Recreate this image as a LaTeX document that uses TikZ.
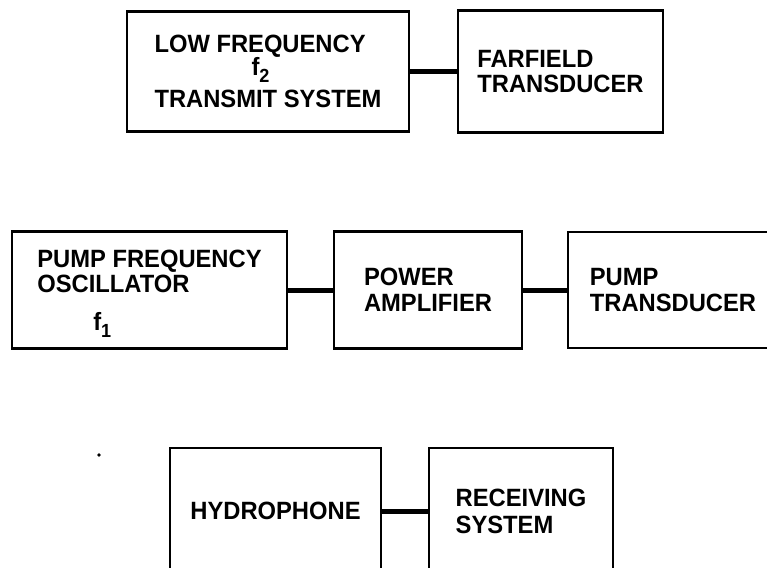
\documentclass[tikz,border=0pt]{standalone}
\usepackage{fontspec}
\setmainfont{Liberation Sans}[FakeStretch=0.95]
\tikzset{
  blk/.style={draw, line width=2.6pt, rectangle, inner sep=0pt, align=left,
    font=\fontsize{25}{26}\selectfont\bfseries},
  wire/.style={line width=5pt}
}
\newcommand{\subnum}[1]{\raisebox{-7pt}[0pt][0pt]{\fontsize{19}{19}\selectfont #1}}
\begin{document}
\begin{tikzpicture}[x=1pt,y=-1pt]
\useasboundingbox (0,0) rectangle (767,567);
\clip (0,0) rectangle (767,567);
% row 1
\node[blk, minimum width=282pt, minimum height=120pt] (lf) at (268,71.5)
  {LOW FREQUENCY\\[-3pt]\hspace*{97pt}f\subnum{2}\\[6pt]TRANSMIT SYSTEM};
\node[blk, minimum width=205pt, minimum height=122pt] (ff) at (560.5,71.5)
  {FARFIELD\\[-1pt]TRANSDUCER};
% row 2
\node[blk, minimum width=275pt, minimum height=117pt] (po) at (149.5,290)
  {PUMP FREQUENCY\\[-1pt]OSCILLATOR\\[12pt]\hspace*{56pt}f\subnum{1}};
\node[blk, minimum width=188pt, minimum height=117pt] (pa) at (428,290)
  {POWER\\AMPLIFIER};
\node[blk, minimum width=210pt, minimum height=116pt] (pt) at (673,290)
  {PUMP\\TRANSDUCER};
% row 3
\node[blk, minimum width=211pt, minimum height=126pt] (hy) at (275.5,511)
  {HYDROPHONE};
\node[blk, minimum width=184pt, minimum height=126pt] (rs) at (521,511)
  {RECEIVING\\[1pt]SYSTEM};
% connectors
\draw[wire] (lf.east) -- (ff.west);
\draw[wire] (po.east) -- (pa.west);
\draw[wire] (pa.east) -- (pt.west);
\draw[wire] (hy.east) -- (rs.west);
% stray dot
\fill (99,455) circle (1.8);
\end{tikzpicture}
\end{document}
